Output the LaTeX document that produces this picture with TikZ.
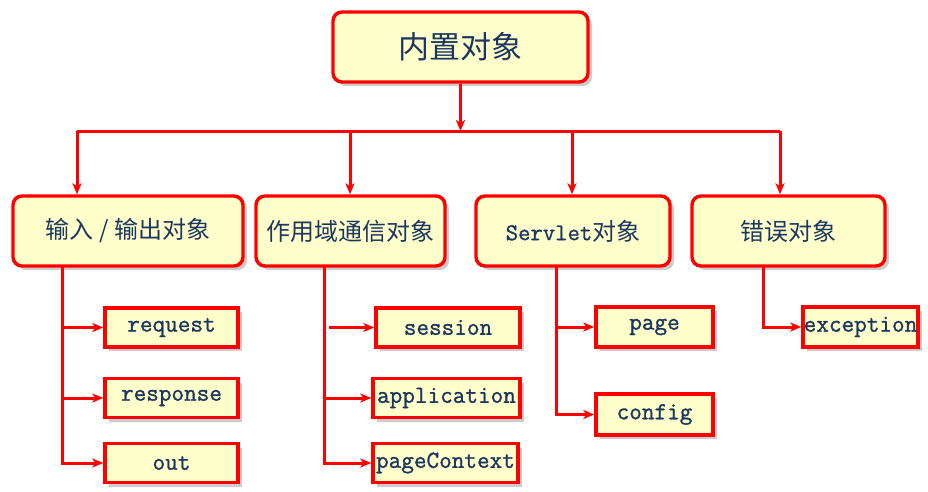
\documentclass[tikz,border=0pt]{standalone}
\usepackage{fontspec}
\newfontfamily\cjk{Noto Sans CJK SC}
\newfontfamily\latinmono[FakeBold=1.2]{Latin Modern Mono}
\usepackage{tikz}
\usetikzlibrary{arrows.meta,shadows}
\definecolor{hongxian}{HTML}{FF0000}
\definecolor{nenhuang}{HTML}{FFFFCC}
\definecolor{chuxanh}{HTML}{1B3760}
\tikzset{
  hop/.style={draw=hongxian,line width=3.4pt,fill=nenhuang,text=chuxanh,inner sep=0pt,
    drop shadow={shadow xshift=4pt,shadow yshift=-4pt,opacity=0.2,fill=black}},
  caphai/.style={hop,rounded corners=9pt,minimum height=70,font=\cjk\fontsize{24}{24}\selectfont},
  con/.style={hop,minimum height=39,font=\latinmono\fontsize{24.5}{24.5}\selectfont},
  noi/.style={hongxian,line width=3pt},
  mui/.style={noi,-{Stealth[length=11pt,width=9pt,inset=3pt]}}
}
\begin{document}
\begin{tikzpicture}[x=1pt,y=-1pt]
	\useasboundingbox (0,0) rectangle (928,491);

	\node[hop,rounded corners=9pt,minimum width=255,minimum height=70,font=\cjk\fontsize{31}{31}\selectfont] (goc) at (460.5,47) {内置对象};

	\node[caphai,minimum width=230] (io) at (128,231) {输入 / 输出对象};
	\node[caphai,minimum width=189] (scope) at (350.5,231) {作用域通信对象};
	\node[caphai,minimum width=194] (servlet) at (573,231) {{\latinmono Servlet}对象};
	\node[caphai,minimum width=193] (err) at (788.5,231) {错误对象};

	\node[con,minimum width=133] (req) at (171.5,327.5) {request};
	\node[con,minimum width=133] (resp) at (171.5,398) {response};
	\node[con,minimum width=133] (out) at (171.5,463) {out};
	\node[con,minimum width=144] (ses) at (448,327.5) {session};
	\node[con,minimum width=147] (app) at (446.5,398) {application};
	\node[con,minimum width=145] (ctx) at (445.5,463) {pageContext};
	\node[con,minimum width=117,minimum height=40] (page) at (654.5,327) {page};
	\node[con,minimum width=117,minimum height=41] (cfg) at (654.5,414.5) {config};
	\node[con,minimum width=115,minimum height=40] (exc) at (860.5,327) {exception};

	\coordinate (bus) at (460.5,131);
	\coordinate (a1) at (77,131);
	\coordinate (a2) at (350,131);
	\coordinate (a3) at (572,131);
	\coordinate (a4) at (780,131);
	\coordinate (t1) at (62,266);
	\coordinate (t2) at (324,266);
	\coordinate (t3) at (556,266);
	\coordinate (t4) at (763,266);
	\coordinate (s2) at (329,327.5);

	\draw[mui] (goc) -- (bus);
	\draw[noi] (a1) -- (a4);
	\draw[mui] (a1) -- (io.north -| a1);
	\draw[mui] (a2) -- (scope.north -| a2);
	\draw[mui] (a3) -- (servlet.north -| a3);
	\draw[mui] (a4) -- (err.north -| a4);

	\draw[mui] (t1) |- (out.west);
	\draw[mui] (t1 |- req.west) -- (req.west);
	\draw[mui] (t1 |- resp.west) -- (resp.west);

	\draw[mui] (t2) |- (ctx.west);
	\draw[mui] (s2) -- (ses.west);
	\draw[mui] (t2 |- app.west) -- (app.west);

	\draw[mui] (t3) |- (cfg.west);
	\draw[mui] (t3 |- page.west) -- (page.west);

	\draw[mui] (t4) |- (exc.west);
\end{tikzpicture}
\end{document}
